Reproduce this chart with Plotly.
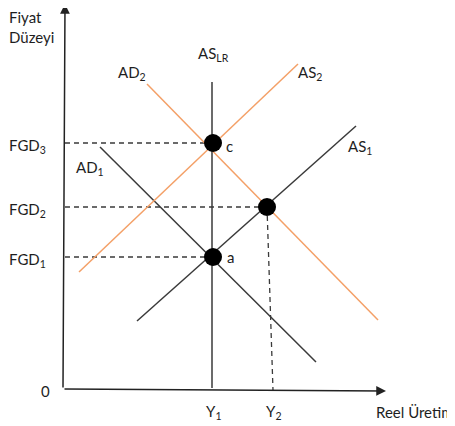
import plotly.graph_objects as go

# Economic-diagram values (origin at axis corner)
ad1_x = [35, 251]; ad1_y = [243, 28]
ad2_x = [82, 313]; ad2_y = [306, 70]
as1_x = [72, 291]; as1_y = [69, 264]
as2_x = [14, 233]; as2_y = [118, 326]
aslr_x = [147, 147]; aslr_y = [2, 308]

pt_names = ["c", "b", "a"]
pt_x = [148, 202, 148]
pt_y = [247, 183, 133]

fgd_levels = [247, 183, 133]
fgd_labels = ["FGD<sub>3</sub>", "FGD<sub>2</sub>", "FGD<sub>1</sub>"]
y_ticks = [148, 205]
y_tick_labels = ["Y<sub>1</sub>", "Y<sub>2</sub>"]

BLACK = "#3a3a3a"
ORANGE = "#F4A067"
FONT = "Lato"
TXT = "#1e1e1e"
FS = 15

fig = go.Figure()

# dashed guide lines
for lvl, xe in zip(fgd_levels, pt_x):
    fig.add_trace(go.Scatter(x=[0, xe], y=[lvl, lvl], mode="lines",
                             line=dict(color=BLACK, width=1.3, dash="5px,4px"),
                             hoverinfo="skip", showlegend=False))
fig.add_trace(go.Scatter(x=[pt_x[1], y_ticks[1] + 3], y=[pt_y[1], 0], mode="lines",
                         line=dict(color=BLACK, width=1.3, dash="5px,4px"),
                         hoverinfo="skip", showlegend=False))

# curves
for xs, ys, col in [(ad1_x, ad1_y, BLACK), (as1_x, as1_y, BLACK),
                    (aslr_x, aslr_y, BLACK),
                    (ad2_x, ad2_y, ORANGE), (as2_x, as2_y, ORANGE)]:
    fig.add_trace(go.Scatter(x=xs, y=ys, mode="lines",
                             line=dict(color=col, width=1.5),
                             hoverinfo="skip", showlegend=False))

# equilibrium points
fig.add_trace(go.Scatter(x=pt_x, y=pt_y, mode="markers",
                         marker=dict(color="black", size=18),
                         hoverinfo="skip", showlegend=False))

# axes with arrows
fig.add_annotation(x=0, y=386, ax=-2, ay=1, xref="x", yref="y", axref="x", ayref="y",
                   text="", showarrow=True, arrowhead=2, arrowsize=1.3,
                   arrowwidth=1.5, arrowcolor="#222")
fig.add_annotation(x=321, y=-1, ax=-2, ay=1, xref="x", yref="y", axref="x", ayref="y",
                   text="", showarrow=True, arrowhead=2, arrowsize=1.3,
                   arrowwidth=1.5, arrowcolor="#222")

def txt(x, y, s, xanchor="left", yanchor="middle", size=FS, xshift=0, yshift=0):
    fig.add_annotation(x=x, y=y, xref="x", yref="y", text=s, showarrow=False,
                       xanchor=xanchor, yanchor=yanchor, xshift=xshift,
                       yshift=yshift, align="left",
                       font=dict(family=FONT, size=size, color=TXT))

txt(-54, 380, "Fiyat<br>Düzeyi", yanchor="top", xshift=-4, yshift=4)
for lvl, lab in zip(fgd_levels, fgd_labels):
    txt(-54, lvl - 3, lab, xshift=-4)
txt(9, 222, "AD<sub>1</sub>")
txt(51, 317, "AD<sub>2</sub>")
txt(131, 336, "AS<sub>LR</sub>")
txt(231, 317, "AS<sub>2</sub>")
txt(281, 243, "AS<sub>1</sub>")
txt(159, 244, "c")
txt(160, 133, "a")
txt(-20, -1, "0", xanchor="center")
for xv, lab in zip(y_ticks, y_tick_labels):
    txt(xv + (0 if xv == 148 else 3), -22, lab, xanchor="center")
txt(309, -22, "Reel Üretim")

fig.update_layout(width=447, height=418, margin=dict(l=0, r=0, t=0, b=0),
                  paper_bgcolor="white", plot_bgcolor="white",
                  xaxis=dict(range=[-57, 390], visible=False, fixedrange=True),
                  yaxis=dict(range=[-36, 382], visible=False, fixedrange=True))

fig.write_html("out.html")
